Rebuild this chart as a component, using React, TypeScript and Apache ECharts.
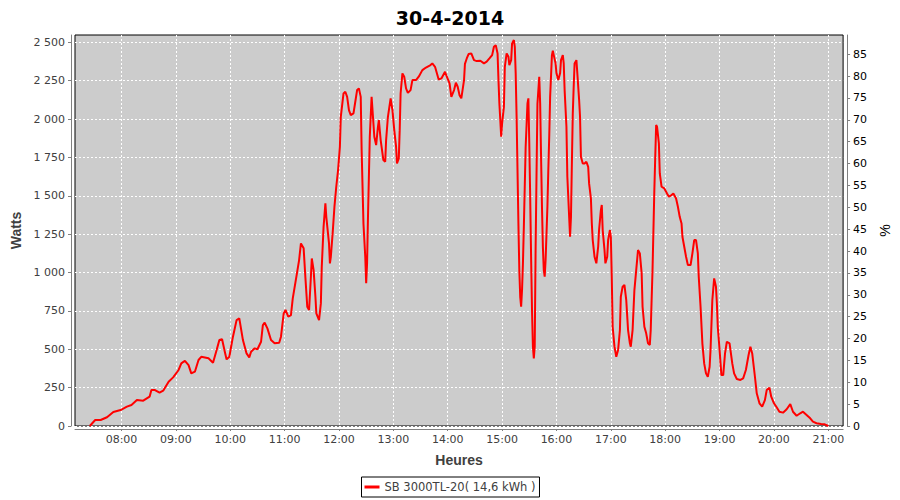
import React, { useEffect, useRef } from "react";
import * as echarts from "echarts";

const chartTitle = "30-4-2014";
const seriesName = "SB 3000TL-20( 14,6 kWh )";
const xAxisName = "Heures";
const leftAxisName = "Watts";
const rightAxisName = "%";

const times = [
  "07:25","07:31","07:37","07:44","07:51","07:59","08:06","08:11","08:17","08:24",
  "08:31","08:33","08:37","08:42","08:46","08:52","08:57","09:03","09:06","09:10",
  "09:14","09:17","09:21","09:25","09:28","09:36","09:41","09:45","09:48","09:51",
  "09:54","09:56","09:59","10:03","10:07","10:10","10:14","10:18","10:21","10:23",
  "10:27","10:30","10:34","10:36","10:38","10:41","10:45","10:49","10:54","10:56",
  "10:59","11:01","11:04","11:07","11:09","11:13","11:16","11:18","11:21","11:23",
  "11:25","11:27","11:29","11:30","11:32","11:34","11:35","11:38","11:40","11:41",
  "11:43","11:45","11:46","11:49","11:50","11:51","11:53","11:55","11:57","11:59",
  "12:01","12:02","12:05","12:07","12:09","12:11","12:13","12:16","12:18","12:20",
  "12:22","12:24","12:25","12:26","12:27","12:29","12:30","12:31","12:32","12:34",
  "12:36","12:37","12:39","12:41","12:43","12:44","12:46","12:49","12:51","12:52",
  "12:54","12:57","12:59","13:01","13:03","13:04","13:06","13:07","13:08","13:10",
  "13:12","13:14","13:16","13:19","13:21","13:25","13:28","13:32","13:36","13:41",
  "13:43","13:46","13:50","13:53","13:57","13:59","14:02","14:04","14:07","14:09",
  "14:11","14:13","14:15","14:18","14:19","14:21","14:23","14:26","14:29","14:32",
  "14:36","14:40","14:43","14:46","14:49","14:51","14:53","14:55","14:56","14:57",
  "14:59","15:00","15:02","15:03","15:05","15:07","15:08","15:10","15:11","15:13",
  "15:14","15:15","15:16","15:17","15:18","15:19","15:20","15:21","15:22","15:23",
  "15:24","15:25","15:26","15:28","15:29","15:30","15:31","15:32","15:33","15:34",
  "15:35","15:36","15:37","15:38","15:39","15:41","15:42","15:43","15:44","15:45",
  "15:46","15:47","15:48","15:49","15:50","15:51","15:52","15:53","15:55","15:56",
  "15:57","15:59","16:00","16:02","16:04","16:05","16:07","16:08","16:09","16:11",
  "16:12","16:14","16:15","16:16","16:17","16:18","16:19","16:20","16:22","16:23",
  "16:25","16:26","16:27","16:29","16:31","16:33","16:35","16:36","16:38","16:39",
  "16:40","16:42","16:44","16:46","16:47","16:49","16:50","16:51","16:53","16:54",
  "16:56","16:57","16:59","17:00","17:01","17:02","17:04","17:06","17:08","17:10",
  "17:11","17:13","17:15","17:17","17:19","17:21","17:22","17:24","17:26","17:28",
  "17:30","17:32","17:34","17:35","17:37","17:39","17:41","17:43","17:44","17:46",
  "17:47","17:48","17:49","17:50","17:51","17:53","17:54","17:56","17:59","18:02",
  "18:04","18:07","18:09","18:12","18:14","18:16","18:18","18:19","18:21","18:23",
  "18:25","18:28","18:30","18:32","18:34","18:36","18:37","18:39","18:41","18:43",
  "18:45","18:47","18:49","18:50","18:52","18:54","18:56","18:57","18:58","19:00",
  "19:02","19:04","19:06","19:08","19:11","19:14","19:16","19:19","19:23","19:26",
  "19:29","19:32","19:34","19:36","19:39","19:41","19:44","19:47","19:50","19:52",
  "19:55","19:57","20:00","20:03","20:06","20:10","20:14","20:18","20:21","20:25",
  "20:29","20:32","20:36","20:40","20:43","20:47","20:52","20:56","21:00"
];

const watts = [
  0,39,39,57,91,104,126,137,169,165,
  191,234,234,217,230,289,317,365,408,425,
  397,343,354,430,451,441,412,495,560,565,
  484,434,451,582,690,701,560,473,447,484,
  506,500,549,658,673,636,560,539,543,582,
  734,756,712,723,832,973,1081,1190,1158,962,
  777,756,973,1092,1016,842,734,690,799,1038,
  1298,1451,1363,1190,1060,1103,1255,1429,1559,1668,
  1820,2015,2167,2178,2145,2059,2026,2037,2113,2189,
  2200,2145,1798,1559,1320,1103,930,1060,1363,1885,
  2145,2059,1885,1831,1950,1993,1863,1733,1722,1863,
  2015,2135,2059,1928,1820,1711,1744,1928,2167,2298,
  2276,2200,2171,2189,2254,2254,2276,2319,2336,2352,
  2363,2341,2258,2265,2308,2276,2233,2145,2189,2237,
  2211,2156,2135,2254,2360,2395,2424,2428,2384,2378,
  2380,2363,2374,2395,2417,2471,2482,2428,2254,2102,
  1885,1972,2080,2341,2428,2406,2352,2384,2493,2515,
  2471,2298,2015,1668,1320,1016,842,777,886,1060,
  1298,1559,1820,2102,2135,1842,1494,1103,756,517,
  441,517,1168,1646,2100,2276,2102,1754,1429,1168,
  1016,973,1081,1255,1429,1668,1885,2145,2417,2445,
  2417,2363,2298,2254,2298,2384,2417,2363,2189,1950,
  1624,1363,1233,1363,1711,2037,2211,2363,2384,2300,
  2124,2015,1754,1711,1711,1722,1689,1581,1483,1320,
  1212,1103,1060,1168,1277,1407,1440,1277,1147,1060,
  1103,1212,1277,1233,973,647,517,451,495,625,
  842,908,919,821,625,539,517,625,886,1016,
  1147,1125,995,777,647,604,539,528,625,1016,
  1277,1537,1754,1961,1950,1842,1646,1559,1548,1515,
  1494,1505,1515,1483,1429,1363,1320,1233,1168,1103,
  1049,1049,1125,1212,1212,1125,973,777,539,408,
  343,321,386,495,821,962,908,800,647,495,
  332,332,473,549,539,408,343,306,300,310,
  365,463,517,473,321,213,148,126,169,234,
  250,191,148,122,93,87,109,143,93,67,
  83,93,72,50,28,18,13,11,0
];

const hourTicks = ["08:00","09:00","10:00","11:00","12:00","13:00","14:00","15:00","16:00","17:00","18:00","19:00","20:00","21:00"];
const wattTicks = [0,250,500,750,1000,1250,1500,1750,2000,2250,2500];
const percentTicks = [0,5,10,15,20,25,30,35,40,45,50,55,60,65,70,75,80,85];
const timeRange = [428.7, 1276.3];
const wattRange = [0, 2548];
const percentRange = [0, 89.4];

const FONT = "DejaVu Sans";
const NAME_FONT = "Liberation Sans";

function toMinutes(s: string): number {
  const [h, m] = s.split(":").map(Number);
  return h * 60 + m;
}
function fmtTime(v: number): string {
  const h = Math.floor(v / 60);
  const m = Math.round(v - h * 60);
  return String(h).padStart(2, "0") + ":" + String(m).padStart(2, "0");
}
function fmtWatts(v: number): string {
  if (v >= 1000) {
    return Math.floor(v / 1000) + " " + String(v % 1000).padStart(3, "0");
  }
  return String(v);
}

export default function App() {
  const ref = useRef<HTMLDivElement>(null);
  useEffect(() => {
    if (!ref.current) return;
    const chart = echarts.init(ref.current, undefined, { renderer: "svg" });
    const data = times.map((t, i) => [toMinutes(t), watts[i]]);
    const xTicks = hourTicks.map(toMinutes);
    const gray = "#808080";
    const nameStyle = { fontSize: 14, fontWeight: "bold", color: "#404040", fontFamily: NAME_FONT };
    chart.setOption({
      animation: false,
      backgroundColor: "#ffffff",
      title: {
        text: chartTitle,
        left: "center",
        top: 3,
        textStyle: { fontSize: 19, fontWeight: "bold", color: "#000", fontFamily: FONT },
      },
      legend: {
        top: 477,
        left: "center",
        data: [{ name: seriesName, icon: "rect" }],
        itemWidth: 15,
        itemHeight: 3,
        padding: [3, 4, 3, 3],
        borderColor: "#000",
        borderWidth: 1,
        backgroundColor: "#fff",
        selectedMode: false,
        textStyle: { fontSize: 11.5, color: "#404040", fontFamily: FONT, lineHeight: 14 },
      },
      grid: {
        left: 75,
        top: 35,
        right: 54,
        bottom: 74,
        show: true,
        backgroundColor: "#cccccc",
        borderColor: "#000",
        borderWidth: 1,
      },
      xAxis: {
        type: "value",
        min: timeRange[0],
        max: timeRange[1],
        offset: 3,
        name: xAxisName,
        nameLocation: "middle",
        nameGap: 24,
        nameTextStyle: nameStyle,
        axisLine: { show: true, onZero: false, lineStyle: { color: gray } },
        axisTick: { show: true, length: 2, customValues: xTicks, lineStyle: { color: gray } },
        axisLabel: {
          customValues: xTicks,
          formatter: (v: number) => fmtTime(v),
          color: "#404040",
          fontSize: 11,
          fontFamily: FONT,
          margin: 5,
        },
        splitLine: { show: true, lineStyle: { color: "#ffffff", type: [2, 2], width: 1 } },
      },
      yAxis: [
        {
          type: "value",
          position: "left",
          min: wattRange[0],
          max: wattRange[1],
          offset: 4,
          name: leftAxisName,
          nameLocation: "middle",
          nameRotate: 90,
          nameGap: 38,
          nameTextStyle: nameStyle,
          axisLine: { show: true, lineStyle: { color: gray } },
          axisTick: { show: true, length: 3, customValues: wattTicks, lineStyle: { color: gray } },
          axisLabel: {
            customValues: wattTicks,
            formatter: (v: number) => fmtWatts(v),
            color: "#404040",
            fontSize: 11,
            fontFamily: FONT,
            margin: 6,
          },
          splitLine: { show: true, lineStyle: { color: "#ffffff", type: [2, 2], width: 1 } },
        },
        {
          type: "value",
          position: "right",
          min: percentRange[0],
          max: percentRange[1],
          offset: 4,
          name: rightAxisName,
          nameLocation: "middle",
          nameRotate: 90,
          nameGap: 22,
          nameTextStyle: { ...nameStyle, fontWeight: "normal", color: "#000" },
          axisLine: { show: true, lineStyle: { color: gray } },
          axisTick: { show: true, length: 3, customValues: percentTicks, lineStyle: { color: gray } },
          axisLabel: {
            customValues: percentTicks,
            color: "#000",
            fontSize: 11,
            fontFamily: FONT,
            margin: 6,
          },
          splitLine: { show: false },
        },
      ],
      series: [
        {
          type: "line",
          name: seriesName,
          data,
          xAxisIndex: 0,
          yAxisIndex: 0,
          symbol: "none",
          silent: true,
          itemStyle: { color: "#ff0000" },
          lineStyle: { color: "#ff0000", width: 2 },
        },
      ],
    });
    return () => chart.dispose();
  }, []);
  return (
    <div
      ref={ref}
      style={{ position: "absolute", left: 0, top: 0, width: 900, height: 500, background: "#fff" }}
    />
  );
}
